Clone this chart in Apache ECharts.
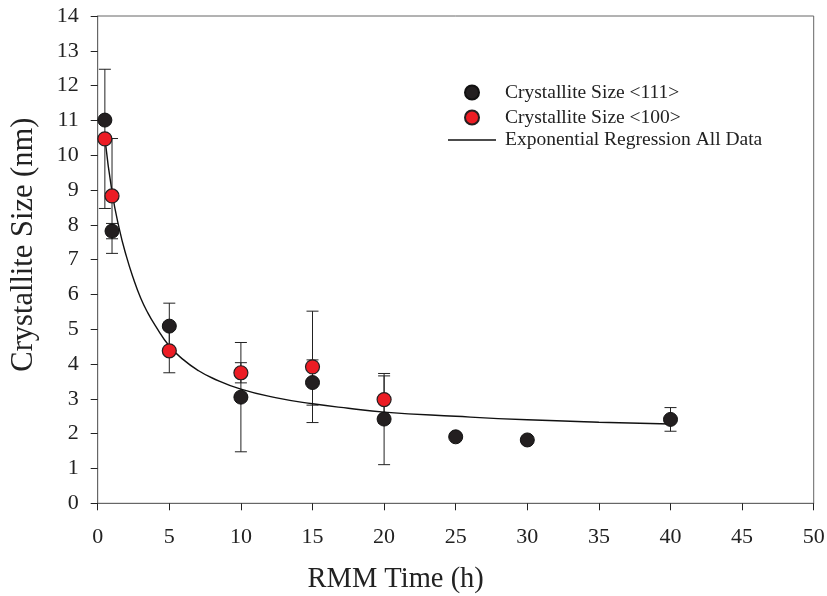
<!DOCTYPE html>
<html>
<head>
<meta charset="utf-8">
<script src="https://cdn.jsdelivr.net/npm/echarts@6/dist/echarts.min.js"></script>
<style>html,body{margin:0;padding:0;background:#fff}#c{width:827px;height:596px}</style>
</head>
<body>
<div id="c"></div>
<script>
// Data
var xTicks = [0, 5, 10, 15, 20, 25, 30, 35, 40, 45, 50];
var yTicks = [0, 1, 2, 3, 4, 5, 6, 7, 8, 9, 10, 11, 12, 13, 14];

var time111 = [0.5, 1, 5, 10, 15, 20, 25, 30, 40];
var size111 = [11.01, 7.82, 5.09, 3.05, 3.47, 2.42, 1.91, 1.82, 2.41];
var err111  = [0, 0.22, 0.66, 1.57, 0.65, 1.31, 0, 0, 0.34];

var time100 = [0.5, 1, 5, 10, 15, 20];
var size100 = [10.47, 8.83, 4.38, 3.75, 3.92, 2.98];
var err100  = [2.0, 1.65, 0.63, 0.29, 1.6, 0.68];

var fitTime = [0.5, 1, 1.5, 2, 2.5, 3, 3.5, 4, 5, 6, 7, 8, 10, 12.5, 15, 17.5, 20, 25, 30, 35, 40];
var fitSize = [10.5, 8.95, 7.9, 7.1, 6.45, 5.9, 5.47, 5.12, 4.52, 4.12, 3.82, 3.6, 3.28, 3.03, 2.86, 2.73, 2.62, 2.5, 2.4, 2.33, 2.28];

var name111 = 'Crystallite Size <111>';
var name100 = 'Crystallite Size <100>';
var nameFit = 'Exponential Regression All Data';

function pairs(xs, ys) { return xs.map(function (x, i) { return [x, ys[i]]; }); }
function errData(xs, ys, es) {
  var out = [];
  xs.forEach(function (x, i) { if (es[i] > 0) out.push([x, ys[i] - es[i], ys[i] + es[i]]); });
  return out;
}
function errRender(params, api) {
  var x = api.value(0), lo = api.value(1), hi = api.value(2);
  var pLo = api.coord([x, lo]), pHi = api.coord([x, hi]);
  var hw = 6;
  var st = { stroke: '#222', lineWidth: 1 };
  return {
    type: 'group',
    children: [
      { type: 'line', shape: { x1: pLo[0], y1: pLo[1], x2: pHi[0], y2: pHi[1] }, style: st },
      { type: 'line', shape: { x1: pLo[0] - hw, y1: pLo[1], x2: pLo[0] + hw, y2: pLo[1] }, style: st },
      { type: 'line', shape: { x1: pHi[0] - hw, y1: pHi[1], x2: pHi[0] + hw, y2: pHi[1] }, style: st }
    ]
  };
}

var serif = '"Liberation Serif", "Times New Roman", serif';
var axisGray = '#666';

var chart = echarts.init(document.getElementById('c'), null, { renderer: 'canvas' });
chart.setOption({
  animation: false,
  backgroundColor: '#fff',
  grid: { left: 97.7, right: 13.3, top: 16, bottom: 92.7, outerBoundsMode: 'none', containLabel: false, show: true, borderColor: axisGray, borderWidth: 1, backgroundColor: 'transparent' },
  legend: [{
    data: [name111, name100],
    icon: 'circle',
    orient: 'vertical', left: 459, top: 77.5, itemWidth: 48, itemHeight: 14, itemGap: 5,
    textStyle: { fontFamily: serif, fontSize: 19.5, color: '#222', padding: [0, 0, 0, 4] }
  }, {
    data: [nameFit],
    icon: 'rect',
    orient: 'vertical', left: 443, top: 125, itemWidth: 48, itemHeight: 1.4,
    textStyle: { fontFamily: serif, fontSize: 19.5, color: '#222', padding: [0, 0, 0, 4] }
  }],
  xAxis: {
    type: 'value', min: xTicks[0], max: xTicks[xTicks.length - 1], interval: 5,
    name: 'RMM Time (h)', nameLocation: 'middle', nameGap: 62,
    nameTextStyle: { fontFamily: serif, fontSize: 28.5, color: '#222', padding: [0, 120, 0, 0] },
    axisLine: { show: true, lineStyle: { color: axisGray, width: 1 } },
    axisTick: { show: true, inside: false, length: 7, lineStyle: { color: '#222' } },
    axisLabel: { fontFamily: serif, fontSize: 22, color: '#222', margin: 23 },
    splitLine: { show: false }
  },
  yAxis: {
    type: 'value', min: yTicks[0], max: yTicks[yTicks.length - 1], interval: 1,
    name: 'Crystallite Size (nm)', nameLocation: 'middle', nameGap: 58,
    nameTextStyle: { fontFamily: serif, fontSize: 30.5, color: '#222', padding: [0, 0, 0, 30] },
    axisLine: { show: true, lineStyle: { color: axisGray, width: 1 } },
    axisTick: { show: true, inside: false, length: 7, lineStyle: { color: '#222' } },
    axisLabel: { fontFamily: serif, fontSize: 22, color: '#222', margin: 19 },
    splitLine: { show: false }
  },
  series: [
    { type: 'custom', name: 'err100', renderItem: errRender, data: errData(time100, size100, err100), z: 1, silent: true },
    { type: 'custom', name: 'err111', renderItem: errRender, data: errData(time111, size111, err111), z: 1, silent: true },
    {
      type: 'line', name: nameFit, data: pairs(fitTime, fitSize), smooth: 0.5, symbol: 'none',
      lineStyle: { color: '#111', width: 1.4 }, itemStyle: { color: '#111' }, z: 2
    },
    {
      type: 'scatter', name: name111, data: pairs(time111, size111), symbol: 'circle', symbolSize: 14,
      itemStyle: { color: '#231f20', borderColor: '#111', borderWidth: 1, opacity: 1 }, z: 3
    },
    {
      type: 'scatter', name: name100, data: pairs(time100, size100), symbol: 'circle', symbolSize: 14,
      itemStyle: { color: '#ec1c24', borderColor: '#231f20', borderWidth: 1.2, opacity: 1 }, z: 4
    }
  ]
});
</script>
</body>
</html>
